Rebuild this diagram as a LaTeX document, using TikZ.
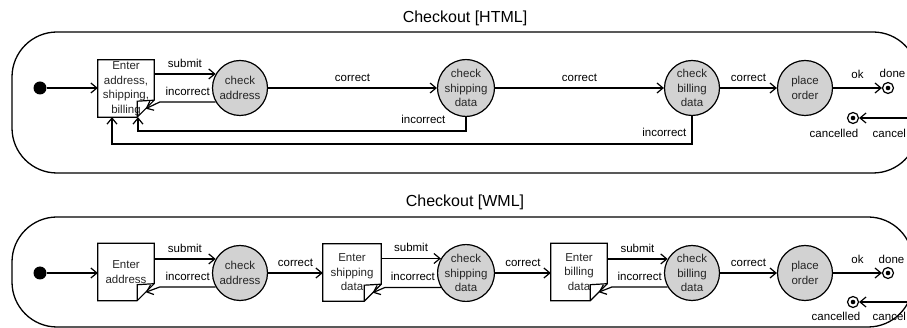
\documentclass[tikz,border=0pt]{standalone}
\usepackage{fontspec}
\setmainfont{Liberation Sans}
\usetikzlibrary{arrows.meta,calc}

\newcommand\lblfont{\fontsize{11.5}{14.5}\selectfont}
\newcommand\headfont{\fontsize{16}{19}\selectfont}

\tikzset{
  frame/.style={line width=1.3pt, rounded corners=45pt},
  flow/.style={line width=1.2pt, -{Straight Barb[length=6pt,width=10pt,line width=1.2pt]}},
  boxline/.style={line width=1.2pt, line join=miter},
  act/.style={circle, draw, line width=1.2pt, fill=gray!35, minimum size=55pt,
    inner sep=0pt, align=center, font=\lblfont, text=black!85},
  doc/.style={rectangle, minimum width=56pt, minimum height=57pt, inner sep=0pt,
    align=center, font=\lblfont, text=black!85},
  init/.style={circle, fill=black, minimum size=13pt, inner sep=0pt},
  final/.style={circle, draw, line width=1.2pt, fill=white, minimum size=11pt, inner sep=0pt,
    path picture={\fill[black] (path picture bounding box.center) circle (2.3pt);}},
  lbl/.style={font=\lblfont, inner sep=1.5pt},
  heading/.style={font=\headfont},
}

% outline of a page-like box with a folded bottom-right corner
\newcommand\foldbox[1]{%
  \draw[boxline] (#1.north west) -- (#1.north east) -- ($(#1.south east)+(0,-17)$)
    -- ($(#1.south east)+(-17,0)$) -- (#1.south west) -- cycle;
  \draw[boxline] ($(#1.south east)+(-17,0)$) -- ($(#1.south east)+(-17,-16)$)
    -- ($(#1.south east)+(0,-17)$);
  \coordinate (#1-fold) at ($(#1.south east)+(-8.5,-8.5)$);}

\begin{document}
\begin{tikzpicture}[x=1pt,y=-1pt]
\useasboundingbox (0,0) rectangle (907,328);
\clip (0,0) rectangle (907,328);

% ---------------- HTML checkout ----------------
\node[heading] (h1) at (465,18) {Checkout [HTML]};
\draw[frame] (12,32) rectangle (918,173);

\node[init] (i1) at (40,88) {};
\node[doc] (a1) at (126,88.5) {Enter\\address,\\shipping,\\billing};
\foldbox{a1}
\node[act] (c1) at (240,88) {check\\address};
\node[act] (c2) at (466,88) {check\\shipping\\data};
\node[act] (c3) at (692,88) {check\\billing\\data};
\node[act] (c4) at (805,88) {place\\order};
\node[final] (f1) at (888,88) {};
\node[final] (f2) at (853,118) {};
\coordinate (x1) at (915,118);

\draw[flow] (i1) -- (i1 -| a1.west);
\draw[flow] (a1.east |- c1.150) -- node[lbl, above=4.5pt] {submit} (c1.150);
\draw[flow] (c1.210) -- node[lbl, above=4.5pt] {incorrect} ++(-56,0) -- (a1-fold);
\draw[flow] (c1) -- node[lbl, above=4.5pt] {correct} (c2);
\draw[flow] (c2) -- node[lbl, above=4.5pt] {correct} (c3);
\draw[flow] (c3) -- node[lbl, above=4.5pt] {correct} (c4);
\draw[flow] (c4) -- node[lbl, above=7pt] {ok} (f1);
\draw[flow] (c2.south) -- ++(0,14)
  node[lbl, anchor=south east, xshift=-18.5pt, yshift=5pt] {incorrect}
  -| ([xshift=12pt]a1.south);
\draw[flow] (c3.south) -- ++(0,28)
  node[lbl, anchor=south east, xshift=-3.5pt, yshift=5.5pt] {incorrect}
  -| ([xshift=-14pt]a1.south);
\draw[flow] (x1) -- (f2);
\node[lbl, anchor=west] (d1) at (878,73) {done};
\node[lbl] (k1) at (834,133) {cancelled};
\node[lbl, anchor=west] (q1) at (871,133) {cancel};

% ---------------- WML checkout ----------------
\node[heading] (h2) at (465,202) {Checkout [WML]};
\draw[frame] (12,217) rectangle (913,327);

\node[init] (i2) at (40,273) {};
\node[doc] (b1) at (126,272) {Enter\\address};
\foldbox{b1}
\node[doc, minimum width=58pt] (b2) at (352,272.5) {Enter\\shipping\\data};
\foldbox{b2}
\node[doc] (b3) at (579,272) {Enter\\billing\\data};
\foldbox{b3}
\node[act] (c5) at (240,273) {check\\address};
\node[act] (c6) at (466,273) {check\\shipping\\data};
\node[act] (c7) at (692,273) {check\\billing\\data};
\node[act] (c8) at (805,273) {place\\order};
\node[final] (f3) at (888,273) {};
\node[final] (f4) at (853,302) {};
\coordinate (x2) at (915,302);

\draw[flow] (i2) -- (i2 -| b1.west);
\draw[flow] (b1.east |- c5.150) -- node[lbl, above=4.5pt] {submit} (c5.150);
\draw[flow] (c5.210) -- node[lbl, above=4.5pt] {incorrect} ++(-56,0) -- (b1-fold);
\draw[flow] (c5) -- node[lbl, above=4.5pt] {correct} (c5 -| b2.west);
\draw[flow] (b2.east |- c6.150) -- node[lbl, above=4.5pt] {submit} (c6.150);
\draw[flow] (c6.210) -- node[lbl, above=4.5pt] {incorrect} ++(-56,0) -- (b2-fold);
\draw[flow] (c6) -- node[lbl, above=4.5pt] {correct} (c6 -| b3.west);
\draw[flow] (b3.east |- c7.150) -- node[lbl, above=4.5pt] {submit} (c7.150);
\draw[flow] (c7.210) -- node[lbl, above=4.5pt] {incorrect} ++(-56,0) -- (b3-fold);
\draw[flow] (c7) -- node[lbl, above=4.5pt] {correct} (c8);
\draw[flow] (c8) -- node[lbl, above=7pt] {ok} (f3);
\draw[flow] (x2) -- (f4);
\node[lbl, anchor=west] (d2) at (877,259) {done};
\node[lbl] (k2) at (836,316) {cancelled};
\node[lbl, anchor=west] (q2) at (871,316) {cancel};
\end{tikzpicture}
\end{document}
